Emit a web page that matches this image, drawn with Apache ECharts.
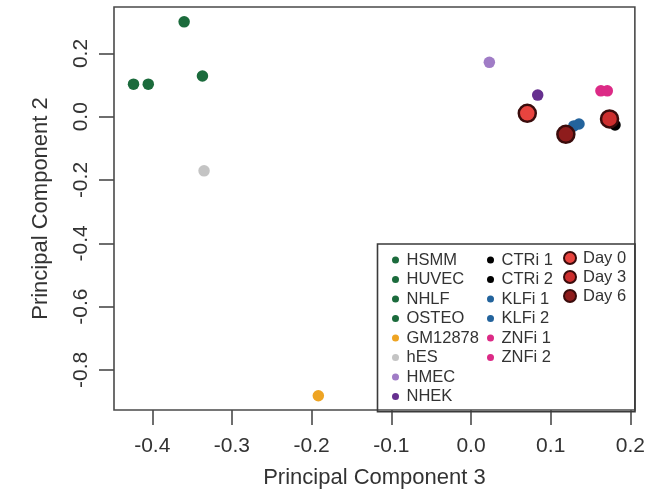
<!DOCTYPE html>
<html>
<head>
<meta charset="utf-8">
<script src="https://cdn.jsdelivr.net/npm/echarts@6/dist/echarts.min.js"></script>
<style>
  html, body { margin: 0; padding: 0; background: #fff; }
  #chart { width: 648px; height: 494px; }
</style>
</head>
<body>
<div id="chart"></div>
<script>
// Cell-line samples and knock-down samples (PC3 vs PC2)
const sampleNames = ['HSMM', 'HUVEC', 'NHLF', 'OSTEO', 'GM12878', 'hES', 'HMEC', 'NHEK',
                     'CTRi 1', 'CTRi 2', 'KLFi 1', 'KLFi 2', 'ZNFi 1', 'ZNFi 2'];
const samplePc3 = [-0.360, -0.4235, -0.405, -0.337, -0.1916, -0.335, 0.023, 0.0837,
                   0.177, 0.1807, 0.129, 0.1355, 0.163, 0.171];
const samplePc2 = [0.300, 0.103, 0.103, 0.129, -0.882, -0.171, 0.172, 0.0686,
                   -0.017, -0.026, -0.029, -0.023, 0.082, 0.082];
const sampleColors = ['#1b6b3c', '#1b6b3c', '#1b6b3c', '#1b6b3c', '#eea423', '#c4c4c4', '#a07cc6', '#66308f',
                      '#000000', '#000000', '#23639c', '#23639c', '#dc2a86', '#dc2a86'];

// Time-course samples
const dayNames = ['Day 0', 'Day 3', 'Day 6'];
const dayPc3 = [0.0706, 0.1738, 0.119];
const dayPc2 = [0.011, -0.007, -0.0556];
const dayColors = ['#e8443f', '#cc2e2e', '#8e1c1c'];

// Axis ticks
const xTicks = [-0.4, -0.3, -0.2, -0.1, 0.0, 0.1, 0.2];
const yTicks = [-0.8, -0.6, -0.4, -0.2, 0.0, 0.2];
const xRange = [-0.448, 0.2056];
const yRange = [-0.927, 0.347];

const FONT = '"Liberation Sans", Arial, Helvetica, sans-serif';
const TXT = '#333';

const series = [];
sampleNames.forEach((name, i) => {
  series.push({
    name: name,
    type: 'scatter',
    symbol: 'circle',
    symbolSize: 11.5,
    itemStyle: { color: sampleColors[i], opacity: 1 },
    data: [[samplePc3[i], samplePc2[i]]],
    z: 2
  });
});
dayNames.forEach((name, i) => {
  series.push({
    name: name,
    type: 'scatter',
    symbol: 'circle',
    symbolSize: 17,
    itemStyle: { color: dayColors[i], borderColor: '#3a0c0c', borderWidth: 2.5, opacity: 1 },
    data: [[dayPc3[i], dayPc2[i]]],
    z: 3
  });
});

const legendText = { fontFamily: FONT, fontSize: 16.5, color: TXT, lineHeight: 16 };
const legendBase = {
  orient: 'vertical',
  padding: 0,
  itemWidth: 12,
  itemHeight: 7,
  itemGap: 2.5,
  icon: 'circle',
  selectedMode: false,
  textStyle: legendText
};

const option = {
  animation: false,
  backgroundColor: '#fff',
  grid: {
    left: 114, top: 7, width: 521, height: 404.7,
    show: true, borderColor: '#4a4a4a', borderWidth: 1.6, backgroundColor: 'transparent'
  },
  xAxis: {
    type: 'value',
    min: xRange[0], max: xRange[1],
    name: 'Principal Component 3',
    nameLocation: 'middle',
    nameGap: 57,
    nameTextStyle: { fontFamily: FONT, fontSize: 22, color: TXT },
    axisLine: { show: false, onZero: false },
    splitLine: { show: false },
    axisTick: { show: true, length: 15, inside: false, customValues: xTicks,
                lineStyle: { color: '#4a4a4a', width: 1.6 } },
    axisLabel: { customValues: xTicks, margin: 26, fontFamily: FONT, fontSize: 21, color: TXT,
                 formatter: v => v.toFixed(1) }
  },
  yAxis: {
    type: 'value',
    min: yRange[0], max: yRange[1],
    name: 'Principal Component 2',
    nameLocation: 'middle',
    nameGap: 62,
    nameTextStyle: { fontFamily: FONT, fontSize: 22, color: TXT },
    axisLine: { show: false, onZero: false },
    splitLine: { show: false },
    axisTick: { show: true, length: 15, inside: false, customValues: yTicks,
                lineStyle: { color: '#4a4a4a', width: 1.6 } },
    axisLabel: { customValues: yTicks, rotate: 90, margin: 22, fontFamily: FONT, fontSize: 21, color: TXT,
                 formatter: v => v.toFixed(1) }
  },
  legend: [
    Object.assign({}, legendBase, {
      left: 392, top: 251.5,
      data: ['HSMM', 'HUVEC', 'NHLF', 'OSTEO', 'GM12878', 'hES', 'HMEC', 'NHEK']
    }),
    Object.assign({}, legendBase, {
      left: 487, top: 251.5,
      data: ['CTRi 1', 'CTRi 2', 'KLFi 1', 'KLFi 2', 'ZNFi 1', 'ZNFi 2']
    }),
    Object.assign({}, legendBase, {
      left: 563, top: 249.5,
      itemWidth: 16, itemHeight: 12, itemGap: 2.0,
      data: dayNames
    })
  ],
  graphic: [{
    type: 'rect',
    shape: { x: 377.5, y: 244, width: 257.5, height: 167.7 },
    style: { fill: 'none', stroke: '#3a3a3a', lineWidth: 1.6 },
    z: 10, silent: true
  }],
  series: series
};

const chart = echarts.init(document.getElementById('chart'), null, { renderer: 'canvas' });
chart.setOption(option);
</script>
</body>
</html>
